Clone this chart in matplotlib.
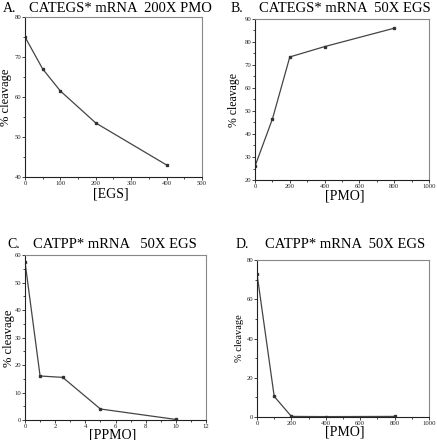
import matplotlib
matplotlib.use("Agg")
import matplotlib.pyplot as plt
from matplotlib.ticker import MultipleLocator, AutoMinorLocator

plt.rcParams['font.family'] = ['Liberation Serif', 'DejaVu Serif']

# Panel A
a_x = [0, 50, 100, 200, 400]
a_y = [75, 67, 61.5, 53.5, 43]
# Panel B
b_x = [0, 100, 200, 400, 800]
b_y = [26, 46.5, 73.5, 78, 86]
# Panel C
c_x = [0, 1, 2.5, 5, 10]
c_y = [57.5, 16, 15.5, 4, 0.2]
# Panel D
d_x = [0, 100, 200, 400, 800]
d_y = [73, 10.5, 0.3, 0.2, 0.3]

W, H = 437, 440
fig = plt.figure(figsize=(W/100, H/100), dpi=100)

def px_axes(l, t, r, b):
    return fig.add_axes([l/W, 1-b/H, (r-l)/W, (b-t)/H])

panels = [
    dict(box=(25, 17, 202, 177), x=a_x, y=a_y, xlim=(0, 500), xstep=100, ylim=(40, 80), ystep=10,
         letter="A.", lpos=(3, 9), title="CATEGS* mRNA  200X PMO", tpos=(120, 9),
         xlabel="[EGS]", xlpos=(111, 194), ylpos=(6, 97), ylfs=9),
    dict(box=(255, 19, 429, 180), x=b_x, y=b_y, xlim=(0, 1000), xstep=200, ylim=(20, 90), ystep=10,
         letter="B.", lpos=(231, 9), title="CATEGS* mRNA  50X EGS", tpos=(345, 9),
         xlabel="[PMO]", xlpos=(345, 196), ylpos=(234, 100), ylfs=8.5),
    dict(box=(25, 255, 206, 420), x=c_x, y=c_y, xlim=(0, 12), xstep=2, ylim=(0, 60), ystep=10,
         letter="C.", lpos=(7, 244), title="CATPP* mRNA   50X EGS", tpos=(115, 244),
         xlabel="[PPMO]", xlpos=(113, 434.5), ylpos=(9, 338), ylfs=9),
    dict(box=(257, 260, 429, 417), x=d_x, y=d_y, xlim=(0, 1000), xstep=200, ylim=(0, 80), ystep=20,
         letter="D.", lpos=(236, 245), title="CATPP* mRNA  50X EGS", tpos=(345, 245),
         xlabel="[PMO]", xlpos=(345, 432), ylpos=(240, 338), ylfs=7.5),
]

for p in panels:
    ax = px_axes(*p['box'])
    ax.plot(p['x'], p['y'], color='#444444', lw=0.9, marker='s', ms=2, mfc='#333333', mec='#333333')
    ax.set_xlim(*p['xlim'])
    ax.set_ylim(*p['ylim'])
    ax.xaxis.set_major_locator(MultipleLocator(p['xstep']))
    ax.yaxis.set_major_locator(MultipleLocator(p['ystep']))
    ax.xaxis.set_minor_locator(AutoMinorLocator(2))
    ax.yaxis.set_minor_locator(AutoMinorLocator(2))
    ax.tick_params(which='major', length=2, width=0.6, labelsize=4.8, pad=0.8, colors='#222222')
    ax.tick_params(which='minor', length=1.2, width=0.5)
    for side in ['left', 'bottom']:
        ax.spines[side].set_color('#222222')
        ax.spines[side].set_linewidth(0.8)
    for side in ['top', 'right']:
        ax.spines[side].set_color('#888888')
        ax.spines[side].set_linewidth(0.8)
    fig.text(p['lpos'][0]/W, 1-p['lpos'][1]/H, p['letter'], fontsize=10, ha='left', va='center')
    fig.text(p['tpos'][0]/W, 1-p['tpos'][1]/H, p['title'], fontsize=10.5, ha='center', va='center')
    fig.text(p['xlpos'][0]/W, 1-p['xlpos'][1]/H, p['xlabel'], fontsize=10, ha='center', va='center')
    fig.text(p['ylpos'][0]/W, 1-p['ylpos'][1]/H, "% cleavage", fontsize=p['ylfs'], ha='center', va='center', rotation=90)

fig.savefig("out.png", dpi=100)
